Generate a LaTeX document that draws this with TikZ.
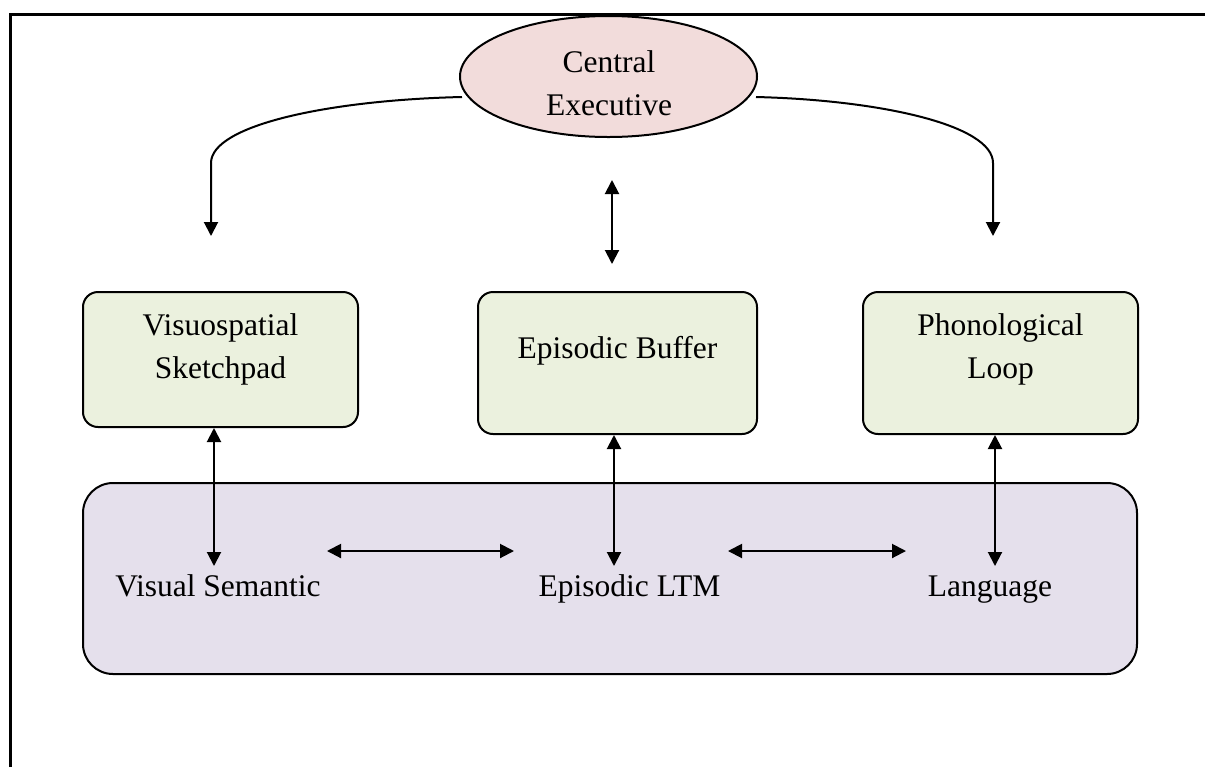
\documentclass[tikz,border=0pt]{standalone}
\usepackage{fontspec}
\setmainfont{Liberation Serif}
\usetikzlibrary{arrows.meta,shapes.geometric}
\definecolor{cepink}{HTML}{F2DCDB}
\definecolor{boxgreen}{HTML}{EBF1DE}
\definecolor{ltmpurple}{HTML}{E5E0EC}
\tikzset{
  every picture/.style={x=0.5pt,y=-0.5pt},
  lbl/.style={font=\fontsize{15.75pt}{21.5pt}\selectfont, inner sep=0pt, anchor=base},
  compbox/.style={draw=black, line width=1pt, fill=boxgreen, rounded corners=7.5pt, inner sep=0pt},
  conn/.style={line width=1pt, -{Triangle[length=7pt,width=7pt]}},
  dconn/.style={line width=1pt, {Triangle[length=7pt,width=7pt]}-{Triangle[length=7pt,width=7pt]}},
}
\begin{document}
\begin{tikzpicture}
\useasboundingbox (0,0) rectangle (1205,767);
% frame
\draw[line width=1.5pt] (10,767) -- (10,14) -- (1205,14);
% central executive
\node[ellipse, draw=black, line width=1pt, fill=cepink, minimum width=148.5pt, minimum height=60.5pt, inner sep=0pt] (ce) at (608.5,76.5) {};
\node[lbl] (cet1) at (609,72) {Central};
\node[lbl] (cet2) at (609,115) {Executive};
% component boxes
\node[compbox, minimum width=137.5pt, minimum height=67.5pt] (vs) at (220.5,359.5) {};
\node[compbox, minimum width=139.5pt, minimum height=71pt] (eb) at (617.5,363) {};
\node[compbox, minimum width=137.5pt, minimum height=71pt] (pl) at (1000.5,363) {};
\node[lbl] (vst1) at (220.5,335) {Visuospatial};
\node[lbl] (vst2) at (220.5,378) {Sketchpad};
\node[lbl] (ebt) at (617.5,358) {Episodic Buffer};
\node[lbl] (plt1) at (1000.5,335) {Phonological};
\node[lbl] (plt2) at (1000.5,378) {Loop};
% long-term memory box
\node[draw=black, line width=1pt, fill=ltmpurple, rounded corners=15pt, minimum width=527pt, minimum height=95.5pt, inner sep=0pt] (ltm) at (610,578.5) {};
\node[lbl] (vsem) at (218,596) {Visual Semantic};
\node[lbl] (eltm) at (629.5,596) {Episodic LTM};
\node[lbl] (lang) at (990,596) {Language};
% coordinates
\coordinate (ceL) at (462,97);
\coordinate (ceR) at (756,97);
\coordinate (vsIn) at (211,236);
\coordinate (plIn) at (993,236);
\coordinate (ebUp) at (612,180);
\coordinate (ebDn) at (612,264);
\coordinate (vsLo) at (214,566);
\coordinate (ebLo) at (614,566);
\coordinate (plLo) at (995,566);
\coordinate (h1a) at (327,551);
\coordinate (h1b) at (514,551);
\coordinate (h2a) at (728,551);
\coordinate (h2b) at (906,551);
% connectors
\draw[conn] (ceL) .. controls (330,100) and (211,125) .. (211,163) -- (vsIn);
\draw[conn] (ceR) .. controls (880,100) and (993,125) .. (993,163) -- (plIn);
\draw[dconn] (ebUp) -- (ebDn);
\draw[dconn] (vs.south -| vsLo) -- (vsLo);
\draw[dconn] (eb.south -| ebLo) -- (ebLo);
\draw[dconn] (pl.south -| plLo) -- (plLo);
\draw[dconn] (h1a) -- (h1b);
\draw[dconn] (h2a) -- (h2b);
\end{tikzpicture}
\end{document}
